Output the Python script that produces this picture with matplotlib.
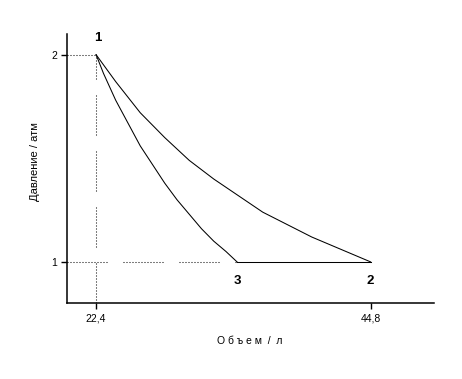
import matplotlib
matplotlib.use("Agg")
import matplotlib.pyplot as plt

# -------------------------------
# Data
# -------------------------------
V1, P1 = 22.4, 2.0
V2, P2 = 44.8, 1.0
V3, P3 = 33.9, 1.0

# curve 1 -> 2
iso_v = [22.4, 24, 26, 28, 30, 32, 34, 36, 38, 40, 42, 44.8]
iso_p = [2.00, 1.87, 1.72, 1.60, 1.49, 1.40, 1.32, 1.24, 1.18, 1.12, 1.07, 1.00]

# curve 1 -> 3
adi_v = [22.4, 23, 24, 25, 26, 27, 28, 29, 30, 31, 32, 33, 33.9]
adi_p = [2.00, 1.91, 1.78, 1.67, 1.56, 1.47, 1.38, 1.30, 1.23, 1.16, 1.10, 1.05, 1.00]

x_ticks = [22.4, 44.8]
x_ticklabels = ["22,4", "44,8"]
y_ticks = [1, 2]
y_ticklabels = ["1", "2"]

point_labels = ["1", "2", "3"]
point_v = [V1, V2, V3]
point_p = [P1, P2, P3]

plt.rcParams["font.family"] = ["Liberation Sans", "DejaVu Sans"]
plt.rcParams["lines.scale_dashes"] = False

fig = plt.figure(figsize=(4.62, 3.79), dpi=100)
ax = fig.add_axes([0.1444, 0.1997, 0.7956, 0.7106])

# dotted guide lines, dots broken into groups
px = 0.72
dots = (0, tuple([px, 2 * px] * 13 + [px, 16 * px]))
ax.plot([V1, V1], [0.8, P1], color="black", lw=0.75, linestyle=dots)
ax.plot([20, V1], [P1, P1], color="black", lw=0.75, linestyle=dots)
ax.plot([20, V3], [P3, P3], color="black", lw=0.75, linestyle=dots)

ax.plot(iso_v, iso_p, color="black", lw=0.75)
ax.plot(adi_v, adi_p, color="black", lw=0.75)
ax.plot([V3, V2], [P3, P2], color="black", lw=0.75)

offsets = [(1.5, 12), (0, -14), (0, -14)]
for lab, v, p, off in zip(point_labels, point_v, point_p, offsets):
    ax.annotate(lab, (v, p), xytext=off, textcoords="offset points",
                ha="center", va="center", fontsize=9.5, fontweight="bold")

ax.set_xlim(20, 50)
ax.set_ylim(0.8, 2.1)
ax.set_xticks(x_ticks)
ax.set_xticklabels(x_ticklabels)
ax.set_yticks(y_ticks)
ax.set_yticklabels(y_ticklabels)
ax.tick_params(direction="out", length=4, width=1, labelsize=7.5, pad=3)

for s in ["top", "right"]:
    ax.spines[s].set_visible(False)
for s in ["left", "bottom"]:
    ax.spines[s].set_linewidth(1.1)

ax.set_xlabel("О б ъ е м  /  л", fontsize=7.5, va="center")
ax.xaxis.set_label_coords(0.498, -0.14)
ax.set_ylabel("Давление / атм", fontsize=8, va="center")
ax.yaxis.set_label_coords(-0.086, 0.525)

fig.savefig("out.png", dpi=100)
